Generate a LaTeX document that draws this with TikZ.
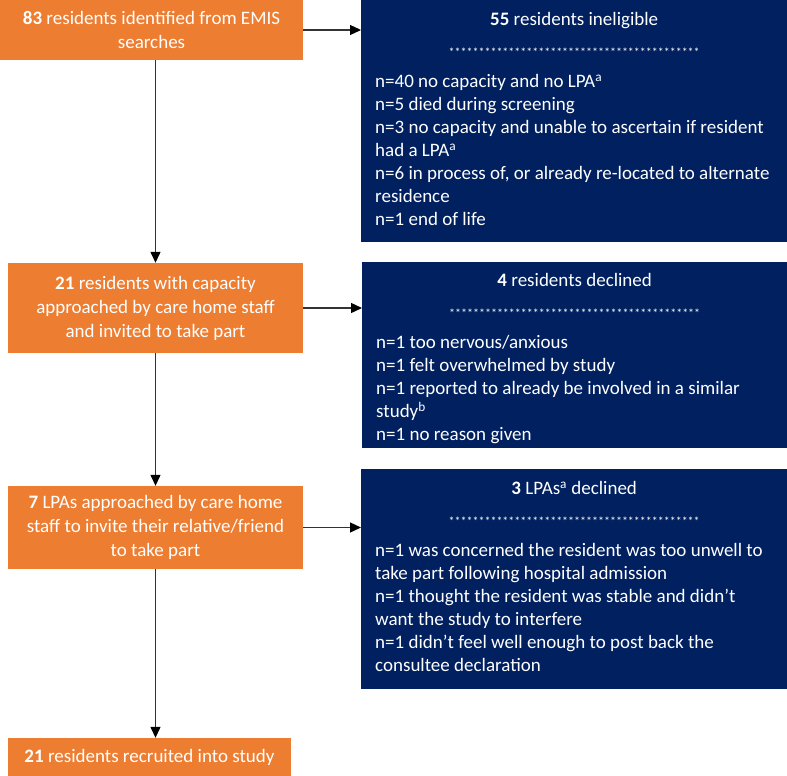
\documentclass[tikz,border=0pt]{standalone}
\usepackage{fontspec}
\setmainfont{Carlito}
\usepackage{tikz}
\usetikzlibrary{arrows.meta, positioning}
\definecolor{naranja}{HTML}{ED7D31}
\definecolor{marino}{HTML}{002060}
\tikzstyle{stage} = [fill=naranja, text=white, inner sep=0pt, align=center, font=\fontsize{19}{24}\selectfont]
\tikzstyle{excluded} = [fill=marino, text=white, inner xsep=14pt, inner ysep=12pt, anchor=north west, font=\fontsize{19}{23}\selectfont]
\tikzstyle{flecha} = [draw=black!80, line width=1.3pt, -{Triangle[length=11pt,width=10pt,black]}]
\newcommand{\separador}{{\centering\fontsize{12}{31}\selectfont ******************************************\par}\vspace{8pt}}

\begin{document}
\begin{tikzpicture}[x=1pt,y=-1pt]
	\useasboundingbox (0,0) rectangle (787,776);
	% columna izquierda
	\node [stage, minimum width=303pt, minimum height=60pt] (inicio) at (151.5,30)
		{\textbf{83} residents identified from EMIS\\searches};
	\node [stage, minimum width=295pt, minimum height=90pt] (capacidad) at (155.5,308)
		{\textbf{21} residents with capacity\\approached by care home staff\\and invited to take part};
	\node [stage, minimum width=295pt, minimum height=83pt] (lpas) at (155.5,527.5)
		{\textbf{7} LPAs approached by care home\\staff to invite their relative/friend\\to take part};
	\node [stage, minimum width=283pt, minimum height=38pt] (reclutados) at (149.5,757)
		{\textbf{21} residents recruited into study};
	% columna derecha
	\node [excluded] (inelegibles) at (361,0){%
		\begin{minipage}[c][218pt][t]{398pt}
			{\centering\textbf{55} residents ineligible\par}
			\separador
			\raggedright
			n=40 no capacity and no LPA\textsuperscript{a}\\
			n=5 died during screening\\
			n=3 no capacity and unable to ascertain if resident\\
			had a LPA\textsuperscript{a}\\
			n=6 in process of, or already re-located to alternate\\
			residence\\
			n=1 end of life
		\end{minipage}};
	\node [excluded, inner ysep=11pt] (declinados) at (362,262){%
		\begin{minipage}[c][164pt][t]{397pt}
			{\centering\textbf{4} residents declined\par}
			\separador
			\raggedright
			n=1 too nervous/anxious\\
			n=1 felt overwhelmed by study\\
			n=1 reported to already be involved in a similar\\
			study\textsuperscript{b}\\
			n=1 no reason given
		\end{minipage}};
	\node [excluded] (lpasno) at (361,469){%
		\begin{minipage}[c][196pt][t]{398pt}
			{\centering\textbf{3} LPAs\textsuperscript{a} declined\par}
			\separador
			\raggedright
			n=1 was concerned the resident was too unwell to\\
			take part following hospital admission\\
			n=1 thought the resident was stable and didn’t\\
			want the study to interfere\\
			n=1 didn’t feel well enough to post back the\\
			consultee declaration
		\end{minipage}};
	% flechas
	\draw [flecha] (inicio.east) -- (inicio.east -| inelegibles.west);
	\draw [flecha] (capacidad.north |- inicio.south) -- (capacidad.north);
	\draw [flecha] (capacidad.east) -- (capacidad.east -| declinados.west);
	\draw [flecha] (capacidad.south) -- (lpas.north);
	\draw [flecha] (lpas.east) -- (lpas.east -| lpasno.west);
	\draw [flecha] (lpas.south) -- (lpas.south |- reclutados.north);
\end{tikzpicture}
\end{document}
